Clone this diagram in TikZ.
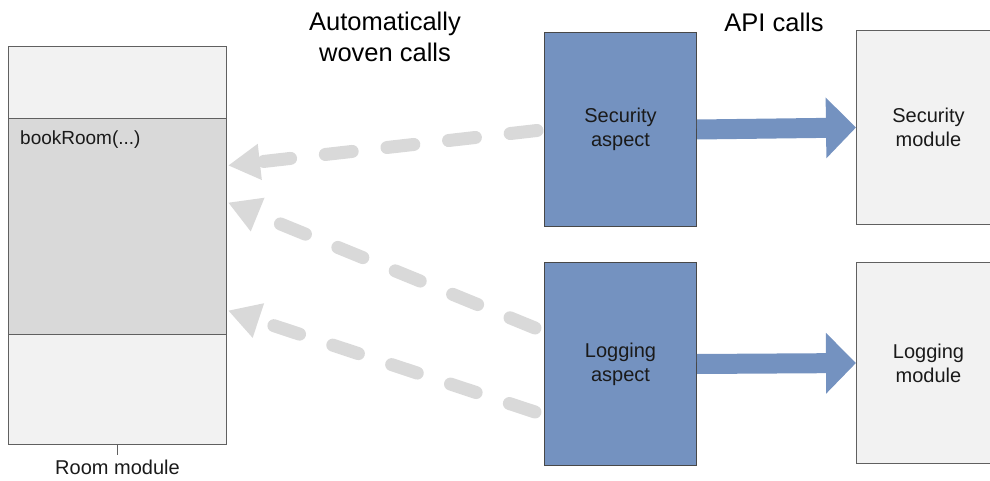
\documentclass[tikz,border=0pt]{standalone}
\usepackage{fontspec}
\setmainfont{Liberation Sans}
\usetikzlibrary{arrows.meta,calc}

\definecolor{aspectblue}{RGB}{116,146,192}
\definecolor{panelgray}{RGB}{242,242,242}
\definecolor{methodgray}{RGB}{217,217,217}
\definecolor{wovengray}{RGB}{217,217,217}
\definecolor{edgegray}{RGB}{96,96,96}
\definecolor{inkdark}{RGB}{26,26,26}

\tikzset{
  panel/.style={draw=edgegray, line width=1pt, fill=panelgray, inner sep=0pt,
    anchor=north west, text=inkdark, align=center,
    font=\fontsize{20}{24}\selectfont},
  aspectbox/.style={panel, draw=inkdark!80, fill=aspectblue},
  woven/.style={draw=wovengray, line width=13pt, line cap=round,
    dash pattern=on 27pt off 35pt,
    -{Triangle[length=32pt,width=34pt]}},
  apicall/.style={draw=aspectblue, line width=20pt,
    -{Triangle[length=30pt,width=59pt]}},
  heading/.style={text=black, align=center, font=\fontsize{25.5}{31}\selectfont}
}

\begin{document}
\begin{tikzpicture}[x=1pt,y=-1pt]
  \useasboundingbox (0,0) rectangle (990,481);
  \clip (0,0) rectangle (990,481);

  % Room module: three stacked compartments
  \node[panel, minimum width=218pt, minimum height=72pt] (roomtop) at (8,46) {};
  \node[panel, fill=methodgray, minimum width=218pt, minimum height=216pt] (roommid) at (8,118) {};
  \node[panel, minimum width=218pt, minimum height=110pt] (roombot) at (8,334) {};
  \node[anchor=west, text=inkdark, font=\fontsize{19}{23}\selectfont, inner sep=0pt]
    (method) at ($(roommid.north west)+(12,22)$) {bookRoom(...)};
  \coordinate (tick) at ($(roombot.south)+(0,10)$);
  \draw[edgegray, line width=1pt] (roombot.south) -- (tick);
  \node[anchor=north, text=inkdark, font=\fontsize{20}{24}\selectfont, inner sep=0pt]
    (roomlabel) at ($(tick)+(0,5)$) {Room module};

  % Aspects
  \node[aspectbox, minimum width=152pt, minimum height=194pt] (secasp) at (544,32) {Security\\aspect};
  \node[aspectbox, minimum width=152pt, minimum height=203pt] (logasp) at (544,262) {Logging\\aspect};

  % Service modules
  \node[panel, minimum width=144pt, minimum height=194pt] (secmod) at (856,30) {Security\\module};
  \node[panel, minimum width=144pt, minimum height=201pt] (logmod) at (856,262) {Logging\\module};

  % Headings
  \node[heading] (wovenhead) at (385,37) {Automatically\\woven calls};
  \node[heading] (apihead) at (774,22) {API calls};

  % Automatically woven calls
  \draw[woven] ($(secasp.west)+(-7,1)$) -- ($(roommid.east)+(1,-61)$);
  \draw[woven] ($(logasp.west)+(-9,-36)$) -- ($(roommid.east)+(1,-24)$);
  \draw[woven] ($(logasp.west)+(-9,48)$) -- ($(roommid.east)+(1,84)$);

  % API calls
  \draw[apicall] (secasp.east) -- (secmod.west);
  \draw[apicall] (logasp.east) -- (logmod.west);
\end{tikzpicture}
\end{document}
